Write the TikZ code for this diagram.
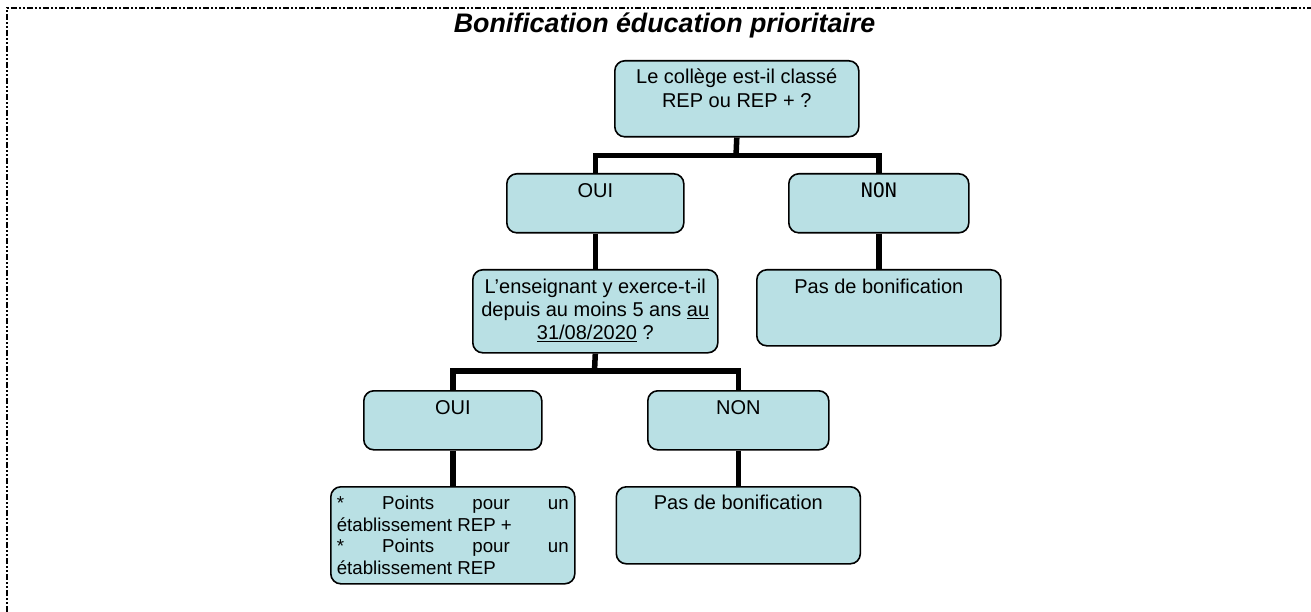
\documentclass[tikz,border=0pt]{standalone}
\usepackage{fontspec}
\setmainfont{Liberation Sans}
\newfontfamily\monofont{DejaVu Sans Mono}
\usepackage{xcolor}
\usepackage{tikz}
\definecolor{paneltint}{HTML}{B9E0E4}

\begin{document}
\begin{tikzpicture}[x=1pt,y=-1pt]
\tikzstyle{panel} = [draw, fill=paneltint, line width=1.6pt, rounded corners=10pt, inner sep=0pt, anchor=north west]
\tikzstyle{bus} = [line width=5.5pt]
\tikzstyle{frame} = [line width=1.2pt, dash pattern=on 6pt off 2pt on 2pt off 2pt on 2pt off 2pt]
\useasboundingbox (0,0) rectangle (1311,612);
\draw[frame] (7,612) -- (7,8) -- (1311,8);
\node (title) [anchor=base, font=\fontsize{26.8}{30}\selectfont\bfseries\itshape] at (664.5,33) {Bonification éducation prioritaire};
% first question
\node[panel] (q1) at (614,60) {\parbox[t][76pt][t]{244pt}{\centering\fontsize{20}{24}\selectfont
	\rule{0pt}{23pt}Le collège est-il classé\\REP ou REP + ?}};
\node[panel] (oui1) at (506,173) {\parbox[t][59pt][t]{177pt}{\centering\fontsize{20}{24}\selectfont
	\rule{0pt}{24pt}OUI}};
\node[panel] (non1) at (788,173) {\parbox[t][59pt][t]{180pt}{\centering\fontsize{20}{24}\selectfont
	\rule{0pt}{24pt}{\monofont NON}}};
% second question
\node[panel] (q2) at (472,269) {\parbox[t][83pt][t]{245pt}{\centering\fontsize{20}{23}\selectfont
	\rule{0pt}{24pt}L’enseignant y exerce-t-il\\depuis au moins 5 ans \underline{au}\\\underline{31/08/2020} ?}};
\node[panel] (pas1) at (756,269) {\parbox[t][76pt][t]{244pt}{\centering\fontsize{20}{24}\selectfont
	\rule{0pt}{24pt}Pas de bonification}};
\node[panel] (oui2) at (363,390) {\parbox[t][59pt][t]{178pt}{\centering\fontsize{20}{24}\selectfont
	\rule{0pt}{24pt}OUI}};
\node[panel] (non2) at (647,390) {\parbox[t][59pt][t]{181pt}{\centering\fontsize{20}{24}\selectfont
	\rule{0pt}{24pt}NON}};
% answers
\node[panel, inner xsep=6pt] (pts) at (330,486) {\parbox[t][97pt][t]{232pt}{\fontsize{18.7}{21.4}\selectfont
	\rule{0pt}{23pt}*\hfill Points\hfill pour\hfill un\\établissement REP +\par
	*\hfill Points\hfill pour\hfill un\\établissement REP}};
\node[panel] (pas2) at (615.5,486) {\parbox[t][77pt][t]{244pt}{\centering\fontsize{20}{24}\selectfont
	\rule{0pt}{23pt}Pas de bonification}};
% connectors
\coordinate (j1) at (736,155.5);
\coordinate (j2) at (594.5,371);
\draw[bus] (q1.south) -- (j1);
\draw[bus] (oui1.north) |- (j1) -| (non1.north);
\draw[bus] (oui1.south) -- (q2.north);
\draw[bus] (non1.south) -- (pas1.north);
\draw[bus] (q2.south) -- (j2);
\draw[bus] (oui2.north) |- (j2) -| (non2.north);
\draw[bus] (oui2.south) -- (pts.north);
\draw[bus] (non2.south) -- (pas2.north);
\end{tikzpicture}
\end{document}
